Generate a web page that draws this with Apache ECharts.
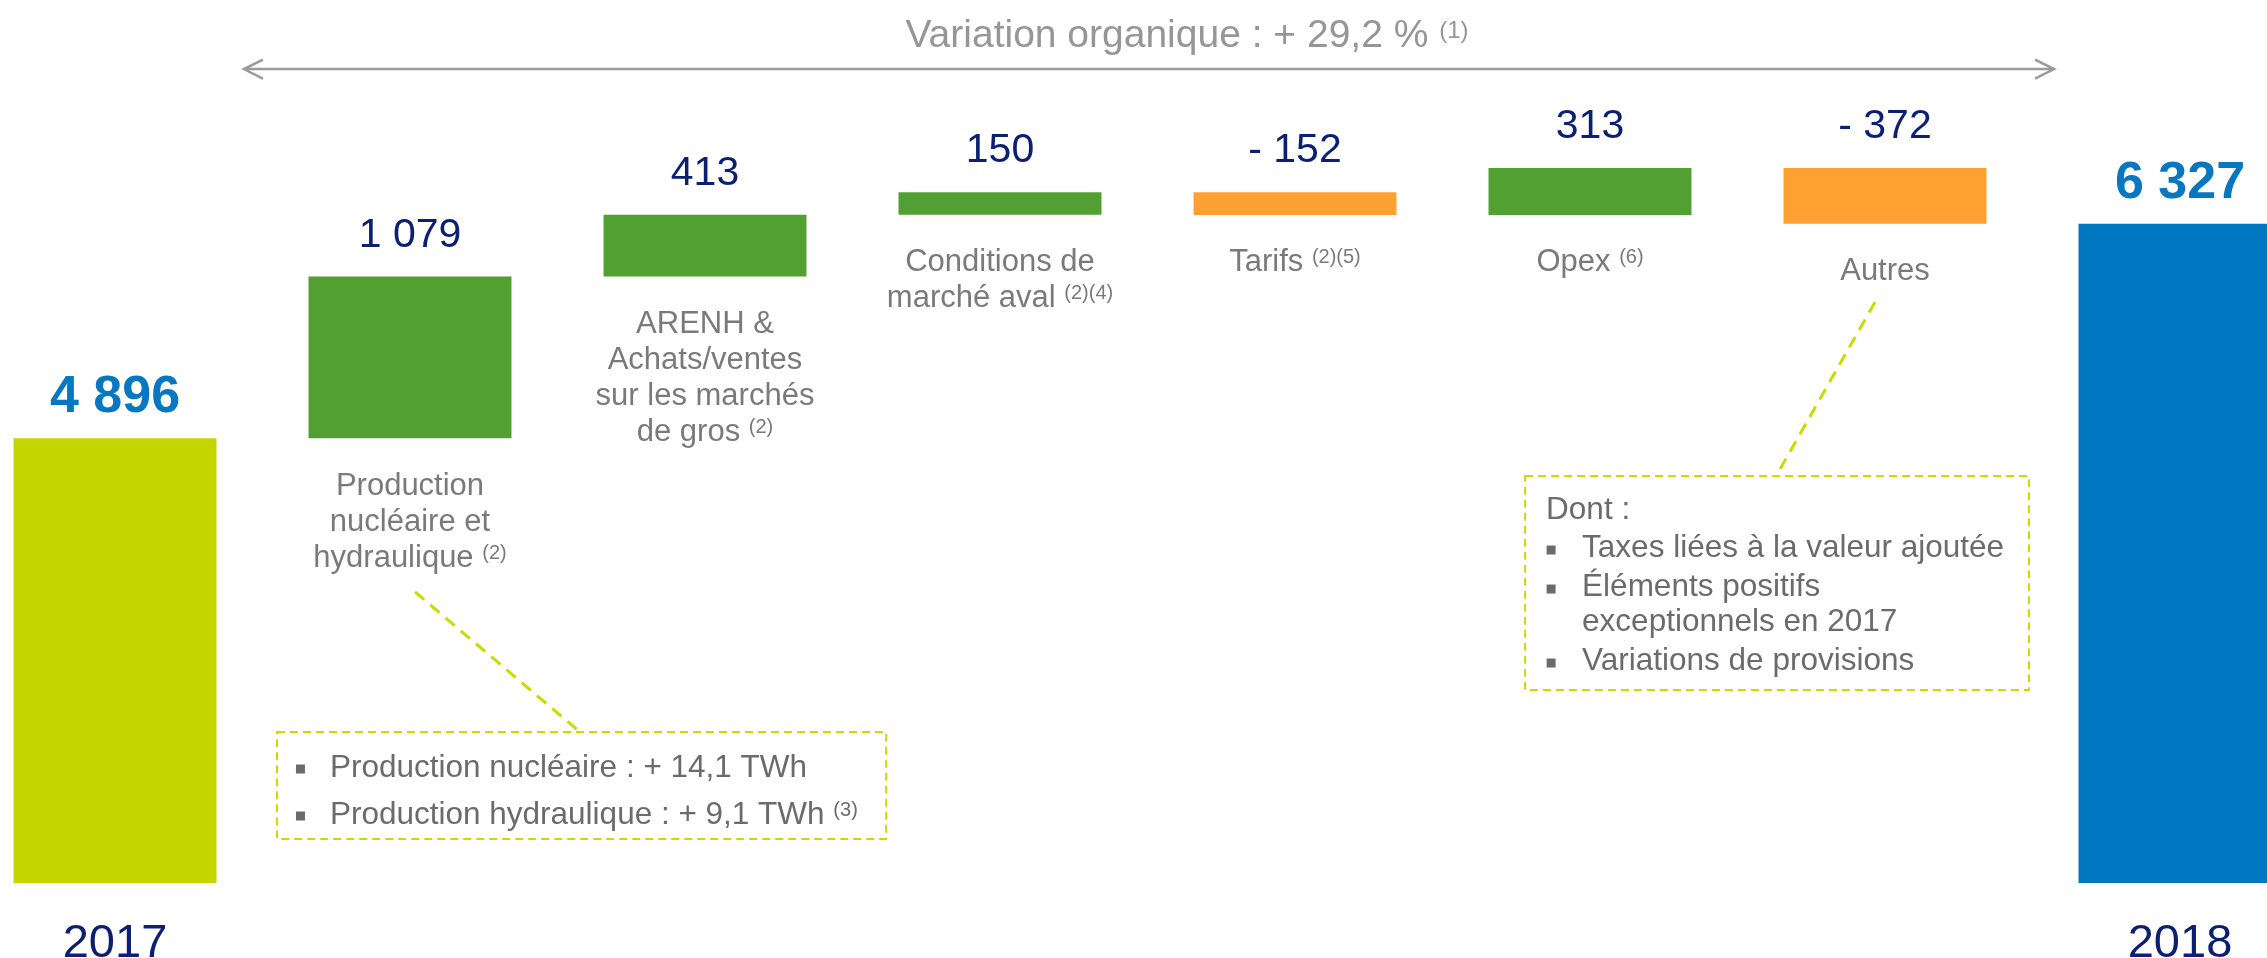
<!DOCTYPE html>
<html>
<head>
<meta charset="utf-8">
<script src="https://cdn.jsdelivr.net/npm/echarts@6/dist/echarts.min.js"></script>
<style>
html,body{margin:0;padding:0;background:#ffffff;}
#chart{width:2267px;height:958px;}
</style>
</head>
<body>
<div id="chart"></div>
<script>
// ---------- data ----------
const categories = ['2017', 'Production nucléaire et hydraulique', 'ARENH & Achats/ventes sur les marchés de gros', 'Conditions de marché aval', 'Tarifs', 'Opex', 'Autres', '2018'];
const kinds = ['total', 'delta', 'delta', 'delta', 'delta', 'delta', 'delta', 'total'];
const values = [4896, 1079, 413, 150, -152, 313, -372, 6327];
const categoryLines = [[], ['Production', 'nucléaire et', 'hydraulique'], ['ARENH &', 'Achats/ventes', 'sur les marchés', 'de gros'], ['Conditions de', 'marché aval'], ['Tarifs'], ['Opex'], ['Autres'], []];
const footnotes = ['', '(2)', '(2)', '(2)(4)', '(2)(5)', '(6)', '', ''];
const yearLabels = ['2017', '', '', '', '', '', '', '2018'];
const titleText = 'Variation organique : + 29,2 %';
const titleNote = '(1)';
const note1Lines = ['Production nucléaire : + 14,1 TWh', 'Production hydraulique : + 9,1 TWh'];
const note1Foot = ['', '(3)'];
const note2Header = 'Dont :';
const note2Items = [['Taxes liées à la valeur ajoutée'], ['Éléments positifs', 'exceptionnels en 2017'], ['Variations de provisions']];

// ---------- style / layout ----------
const FONT = '"Liberation Sans", Arial, Helvetica, sans-serif';
const Y_MIN = 1926, Y_MAX = 7821;
const X_MIN = -0.38983, X_MAX = 7.29492;
const BAR_W = 0.688;
const COLORS = { start: '#C4D600', end: '#0078C1', up: '#52A032', down: '#FFA032' };
const NAVY = '#0B2071', TOTAL_TXT = '#0877C2', CAT_GRAY = '#7A7A7A', NOTE_GRAY = '#6B6B6B', TITLE_GRAY = '#969696', LIME = '#C8DC00';

// waterfall rows: [index, low, high, value]
const rows = [];
let cum = 0;
values.forEach(function (v, i) {
  if (kinds[i] === 'total') { rows.push([i, Y_MIN, v, v]); cum = v; }
  else { const a = cum, b = cum + v; rows.push([i, Math.min(a, b), Math.max(a, b), v]); cum = b; }
});

function fmt(v) {
  const s = String(Math.abs(v)).replace(/\B(?=(\d{3})+(?!\d))/g, ' ');
  return (v < 0 ? '- ' : '') + s;
}
function supRich(size, color, raise) {
  return { s: { fontSize: size, fontFamily: FONT, fill: color, padding: [0, 0, raise, 0] } };
}

function renderBar(params, api) {
  const i = api.value(0), lo = api.value(1), hi = api.value(2), v = api.value(3);
  const total = kinds[i] === 'total';
  const bw = api.size([BAR_W, 0])[0];
  const top = api.coord([i, hi]), bot = api.coord([i, lo]);
  const cx = top[0];
  const fill = total ? (i === 0 ? COLORS.start : COLORS.end) : (v >= 0 ? COLORS.up : COLORS.down);
  const ch = [];
  ch.push({ type: 'rect', shape: { x: cx - bw / 2, y: top[1], width: bw, height: bot[1] - top[1] }, style: { fill: fill } });
  ch.push({ type: 'text', style: {
    text: fmt(v), x: cx, y: top[1] - (total ? 40 : 41), align: 'center', verticalAlign: 'middle',
    fill: total ? TOTAL_TXT : NAVY, fontSize: total ? 52 : 41, fontWeight: total ? 'bold' : 'normal', fontFamily: FONT } });
  if (total) {
    ch.push({ type: 'text', style: { text: yearLabels[i], x: cx, y: bot[1] + 61, align: 'center', verticalAlign: 'middle', fill: NAVY, fontSize: 47, fontFamily: FONT } });
  } else {
    const lines = categoryLines[i].slice();
    if (footnotes[i]) lines[lines.length - 1] += ' {s|' + footnotes[i] + '}';
    ch.push({ type: 'text', style: {
      text: lines.join('\n'), x: cx, y: bot[1] + 30, align: 'center', verticalAlign: 'top',
      fill: CAT_GRAY, fontSize: 31, fontFamily: FONT, lineHeight: 36, rich: supRich(20, CAT_GRAY, 10) } });
  }
  return { type: 'group', children: ch };
}

function renderNotes(params, api) {
  const P = function (x, y) { return api.coord([x, y]); };
  const ch = [];
  // title
  const t = P(3.634, 7580);
  ch.push({ type: 'text', style: {
    text: titleText + ' {s|' + titleNote + '}', x: t[0], y: t[1], align: 'center', verticalAlign: 'middle',
    fill: TITLE_GRAY, fontSize: 39, fontFamily: FONT, lineHeight: 46, rich: supRich(24, TITLE_GRAY, 10) } });
  // double arrow
  const a1 = P(0.437, 7360), a2 = P(6.573, 7360);
  const ay = a1[1];
  const arrowStyle = { stroke: '#9A9A9A', lineWidth: 2.5, fill: 'none' };
  ch.push({ type: 'line', shape: { x1: a1[0], y1: ay, x2: a2[0], y2: ay }, style: arrowStyle });
  ch.push({ type: 'polyline', shape: { points: [[a1[0] + 19, ay - 9.5], [a1[0], ay], [a1[0] + 19, ay + 9.5]] }, style: arrowStyle });
  ch.push({ type: 'polyline', shape: { points: [[a2[0] - 19, ay - 9.5], [a2[0], ay], [a2[0] - 19, ay + 9.5]] }, style: arrowStyle });

  const boxStyle = { fill: 'none', stroke: LIME, lineWidth: 2, lineDash: [8, 5] };
  const linkStyle = { stroke: LIME, lineWidth: 3, lineDash: [12, 8] };
  function bullet(x, y) {
    return { type: 'rect', shape: { x: x - 4.5, y: y - 4.5, width: 9, height: 9 }, style: { fill: NOTE_GRAY } };
  }
  function noteText(txt, x, y, foot) {
    return { type: 'text', style: {
      text: txt + (foot ? ' {s|' + foot + '}' : ''), x: x, y: y, align: 'left', verticalAlign: 'middle',
      fill: NOTE_GRAY, fontSize: 31.5, fontFamily: FONT, lineHeight: 36, rich: supRich(20, NOTE_GRAY, 10) } };
  }

  // callout 1 (production)
  const c1a = P(1.017, 3869), c1b = P(1.576, 2934);
  ch.push({ type: 'line', shape: { x1: c1a[0], y1: c1a[1], x2: c1b[0], y2: c1b[1] }, style: linkStyle });
  const b1a = P(0.549, 2934), b1b = P(2.614, 2220);
  ch.push({ type: 'rect', shape: { x: b1a[0], y: b1a[1], width: b1b[0] - b1a[0], height: b1b[1] - b1a[1] }, style: boxStyle });
  note1Lines.forEach(function (line, k) {
    const yy = b1a[1] + 36 + k * 47;
    ch.push(bullet(b1a[0] + 23.5, yy + 1));
    ch.push(noteText(line, b1a[0] + 53, yy, note1Foot[k]));
  });

  // callout 2 (autres)
  const c2a = P(5.966, 5804), c2b = P(5.631, 4643);
  ch.push({ type: 'line', shape: { x1: c2a[0], y1: c2a[1], x2: c2b[0], y2: c2b[1] }, style: linkStyle });
  const b2a = P(4.780, 4643), b2b = P(6.488, 3214);
  ch.push({ type: 'rect', shape: { x: b2a[0], y: b2a[1], width: b2b[0] - b2a[0], height: b2b[1] - b2a[1] }, style: boxStyle });
  ch.push(noteText(note2Header, b2a[0] + 21, b2a[1] + 34, ''));
  let yy = b2a[1] + 72;
  note2Items.forEach(function (item) {
    ch.push(bullet(b2a[0] + 26, yy + 2));
    item.forEach(function (line) {
      ch.push(noteText(line, b2a[0] + 57, yy, ''));
      yy += 35;
    });
    yy += 4;
  });
  return { type: 'group', children: ch };
}

const chart = echarts.init(document.getElementById('chart'), null, { renderer: 'canvas' });
chart.setOption({
  animation: false,
  backgroundColor: '#ffffff',
  grid: { left: 0, right: 0, top: 0, bottom: 75 },
  xAxis: { type: 'value', min: X_MIN, max: X_MAX, show: false },
  yAxis: { type: 'value', min: Y_MIN, max: Y_MAX, show: false },
  series: [
    { type: 'custom', name: 'waterfall', renderItem: renderBar, data: rows, silent: true },
    { type: 'custom', name: 'notes', renderItem: renderNotes, data: [[0, Y_MIN]], silent: true }
  ]
});
</script>
</body>
</html>
